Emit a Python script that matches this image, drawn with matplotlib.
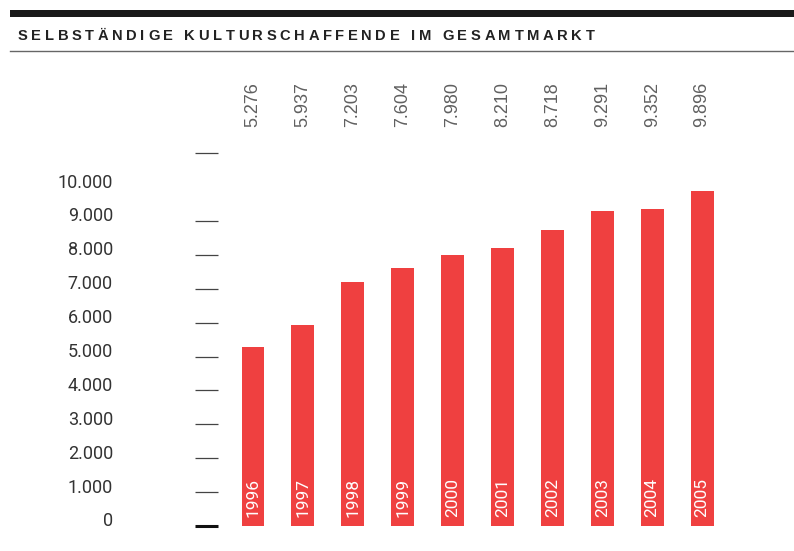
import matplotlib
matplotlib.use('Agg')
import matplotlib.pyplot as plt
import matplotlib.transforms as mtransforms
from matplotlib.lines import Line2D
from matplotlib.patches import Rectangle

# Data
years = ['1996', '1997', '1998', '1999', '2000', '2001', '2002', '2003', '2004', '2005']
values = [5276, 5937, 7203, 7604, 7980, 8210, 8718, 9291, 9352, 9896]
value_labels = ['5.276', '5.937', '7.203', '7.604', '7.980', '8.210', '8.718', '9.291', '9.352', '9.896']
tick_values = [0, 1000, 2000, 3000, 4000, 5000, 6000, 7000, 8000, 9000, 11000]
label_values = [0, 1000, 2000, 3000, 4000, 5000, 6000, 7000, 8000, 9000, 10000]
label_texts = ['0', '1.000', '2.000', '3.000', '4.000', '5.000', '6.000', '7.000', '8.000', '9.000', '10.000']
title = 'SELBSTÄNDIGE KULTURSCHAFFENDE IM GESAMTMARKT'

red = '#ef4040'
W, H = 794, 551
px_per_k = 33.9

fig = plt.figure(figsize=(W / 100, H / 100), dpi=100)

# header: thick black bar, title, thin grey rule
fig.add_artist(Rectangle((10 / W, 1 - 16.5 / H), 1 - 10 / W, 6.5 / H,
                         transform=fig.transFigure, color='#1a1a1a', lw=0))
fig.add_artist(Line2D([10 / W, 1], [1 - 50.5 / H] * 2, transform=fig.transFigure,
                      color='#666666', lw=1))

# title with wide letter spacing, drawn letter by letter
renderer = fig.canvas.get_renderer()
x = 18
fs = 10.6
for ch in title:
    if ch == ' ':
        x += fs * 0.278 * 100 / 72 + 3.6
        continue
    t = fig.text(x / W, 1 - 40 / H, ch, fontsize=fs, fontweight='bold',
                 family='Liberation Sans', color='#222222', va='baseline', ha='left')
    x += t.get_window_extent(renderer).width + 3.6

# plot area: zero at y=526px
ax_left, ax_right = 218, 760
ax_bottom = 526
ymax = 13500
ax_top = ax_bottom - ymax / 1000 * px_per_k
ax = fig.add_axes([ax_left / W, 1 - ax_bottom / H, (ax_right - ax_left) / W, (ax_bottom - ax_top) / H])

xs = list(range(len(years)))
ax.bar(xs, values, width=0.46, color=red, zorder=2)
ax.set_xlim(-0.7014, -0.7014 + (ax_right - ax_left) / 49.9)
ax.set_ylim(0, ymax)

for sp in ax.spines.values():
    sp.set_visible(False)
ax.set_xticks([])
ax.set_yticks(tick_values)
ax.set_yticklabels([''] * len(tick_values))
ax.tick_params(axis='y', direction='out', length=23 * 72 / 100, width=0.9, color='#444444')
zero_tick = ax.yaxis.get_major_ticks()[0]
zero_tick.tick1line.set_markeredgewidth(2.2)
zero_tick.tick1line.set_markeredgecolor('#111111')

# y labels sit a bit above the tick lines
lab_tr = ax.get_yaxis_transform() + mtransforms.ScaledTranslation(0, 4.5 / 100, fig.dpi_scale_trans)
for v, s in zip(label_values, label_texts):
    ax.text(-(218 - 113) / (ax_right - ax_left), v, s, transform=lab_tr, ha='right', va='center',
            fontsize=13, family='Roboto', color='#333333')

# value labels on top, year labels inside the bars
for i in xs:
    ax.text(i, (ax_bottom - 82) / px_per_k * 1000, value_labels[i], rotation=90, ha='center', va='top',
            fontsize=13, family='Liberation Sans', color='#606060')
    ax.text(i, (ax_bottom - 517) / px_per_k * 1000, years[i], rotation=90, ha='center', va='bottom',
            fontsize=12.5, family='Roboto', color='white', zorder=3)

fig.savefig('out.png', dpi=100)
